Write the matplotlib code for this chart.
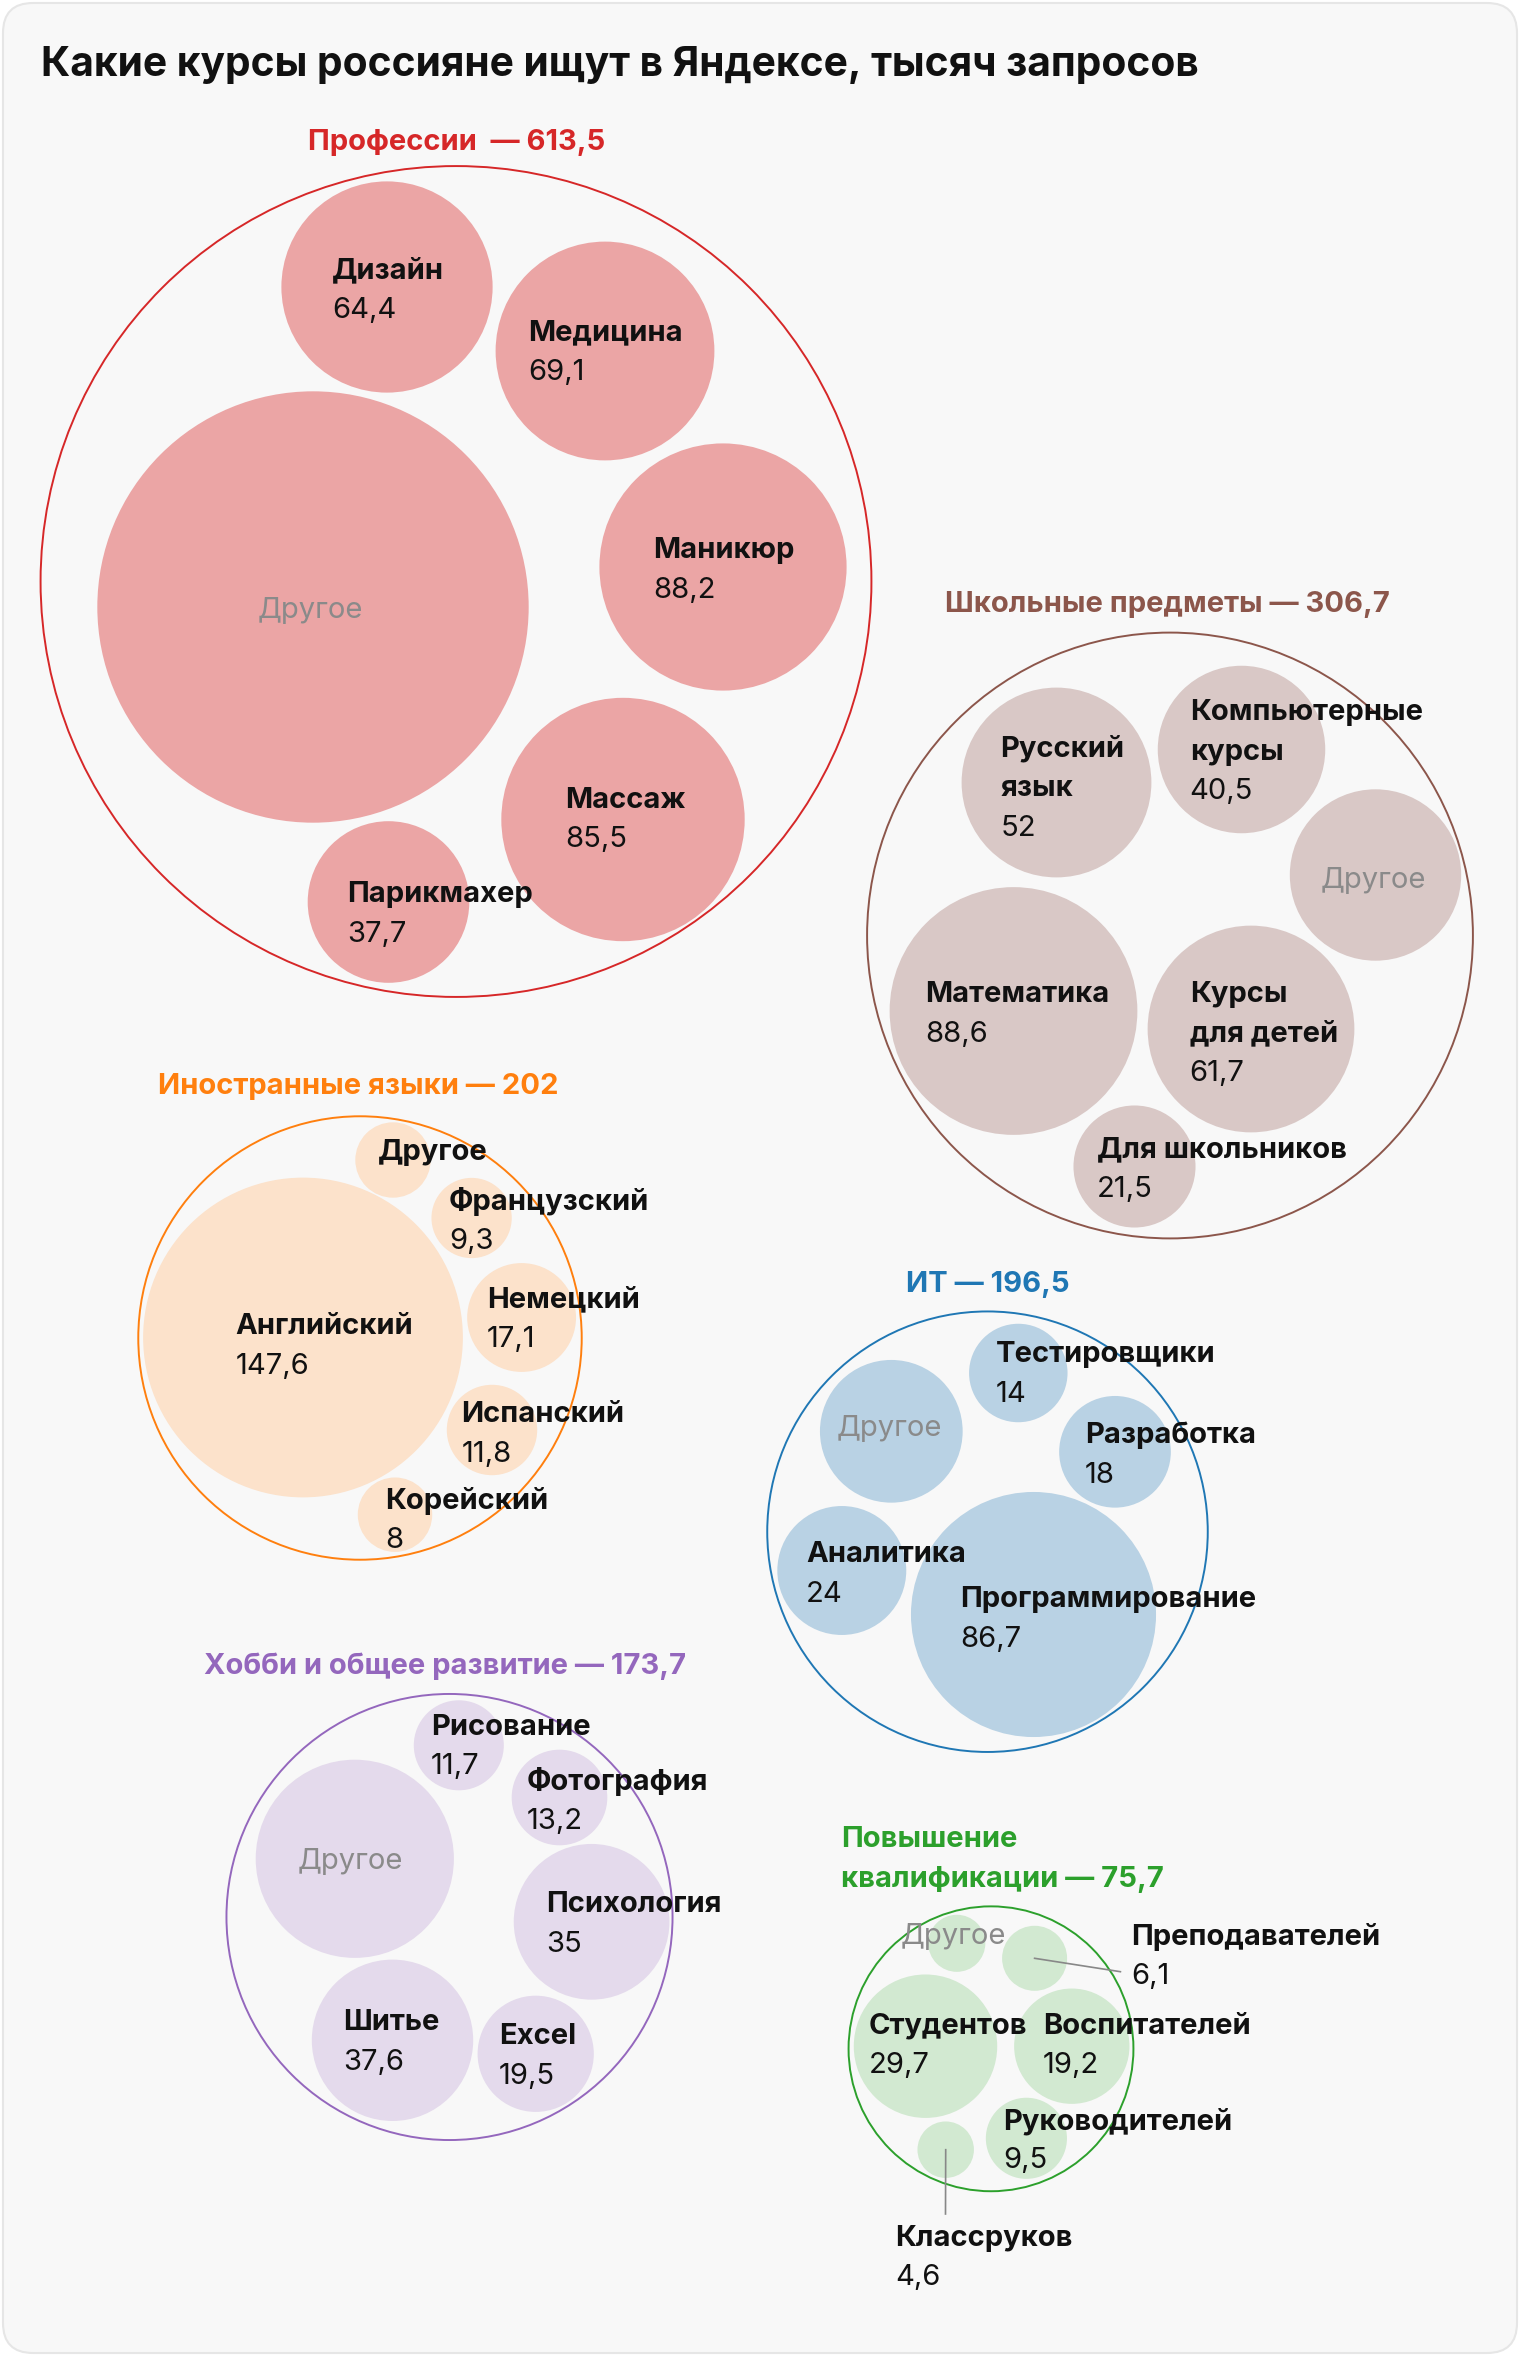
import numpy as np
import matplotlib.pyplot as plt
from matplotlib.patches import Circle, FancyBboxPatch

plt.rcParams['font.family'] = ['Inter', 'DejaVu Sans']

prof_names = ['Дизайн', 'Медицина', 'Маникюр', 'Массаж', 'Парикмахер', 'Другое']
prof_values = [64.4, 69.1, 88.2, 85.5, 37.7, 268.6]
prof_total = 613.5

school_names = ['Русский\nязык', 'Компьютерные\nкурсы', 'Другое', 'Математика',
                'Курсы\nдля детей', 'Для школьников']
school_values = [52, 40.5, 42.4, 88.6, 61.7, 21.5]
school_total = 306.7

lang_names = ['Английский', 'Другое', 'Французский', 'Немецкий', 'Испанский', 'Корейский']
lang_values = [147.6, 8.2, 9.3, 17.1, 11.8, 8]
lang_total = 202

it_names = ['Тестировщики', 'Другое', 'Разработка', 'Аналитика', 'Программирование']
it_values = [14, 29.4, 18, 24, 86.7]
it_total = 196.5

hobby_names = ['Рисование', 'Фотография', 'Другое', 'Психология', 'Шитье', 'Excel']
hobby_values = [11.7, 13.2, 56.7, 35, 37.6, 19.5]
hobby_total = 173.7

qual_names = ['Другое', 'Преподавателей', 'Студентов', 'Воспитателей', 'Руководителей', 'Классруков']
qual_values = [4.7, 6.1, 29.7, 19.2, 9.5, 4.6]
qual_total = 75.7


def fmt(v):
    return f'{v:g}'.replace('.', ',')


# layout of the packing (pixels), bubble sizes come from the values
groups = [
    dict(names=prof_names, values=prof_values, title='Профессии  — ' + fmt(prof_total),
         color='#d62728', fill='#eba5a5', outer=(456, 581.5),
         title_pos=(457, 139), title_ha='center',
         centers=[(387, 287), (605, 351), (723, 567), (623, 819.5), (388.5, 902), (313, 607)],
         labels=[(332, 268), (528.6, 330), (653, 548), (565.5, 797), (347, 892), (310.7, 607.7)]),
    dict(names=school_names, values=school_values, title='Школьные предметы — ' + fmt(school_total),
         color='#8c564b', fill='#d9c8c6', outer=(1170, 935.5),
         title_pos=(1167.5, 602), title_ha='center',
         centers=[(1056.5, 782.5), (1241.5, 749.5), (1375.5, 875), (1013.5, 1011),
                  (1251, 1029), (1134.5, 1166.5)],
         labels=[(1000.4, 746), (1189.7, 710), (1373.5, 877), (924.8, 992),
                 (1189.7, 991), (1097, 1147)]),
    dict(names=lang_names, values=lang_values, title='Иностранные языки — ' + fmt(lang_total),
         color='#ff7f0e', fill='#fce2cb', outer=(360, 1338), dark_other=True,
         title_pos=(358, 1084), title_ha='center',
         centers=[(303, 1337.5), (393, 1160), (471.6, 1218), (521.6, 1317.5),
                  (492, 1430), (395, 1514.7)],
         labels=[(235.4, 1324), (377.5, 1149), (449, 1199), (487, 1296.7),
                 (461.4, 1412), (385.4, 1498)]),
    dict(names=it_names, values=it_values, title='ИТ — ' + fmt(it_total),
         color='#1f77b4', fill='#b9d2e4', outer=(987.5, 1531.7),
         title_pos=(987.5, 1282), title_ha='center',
         centers=[(1018.3, 1373), (891.3, 1431.3), (1115, 1451.8), (841.8, 1570.5), (1033.5, 1614.5)],
         labels=[(995.7, 1351.7), (889.3, 1426), (1085, 1432.7), (806, 1551.7), (960, 1596.7)]),
    dict(names=hobby_names, values=hobby_values, title='Хобби и общее развитие — ' + fmt(hobby_total),
         color='#9467bd', fill='#e4daec', outer=(449.5, 1917),
         title_pos=(444.7, 1663.3), title_ha='center',
         centers=[(458.8, 1745.3), (559.5, 1797.5), (354.8, 1858.8), (591.6, 1921.8),
                  (392.5, 2040.3), (535.7, 2053.8)],
         labels=[(431, 1724.3), (526.8, 1779), (350.7, 1858.3), (546.4, 1901.7),
                 (343.6, 2020), (499, 2034)]),
    dict(names=qual_names, values=qual_values, title='Повышение\nквалификации — ' + fmt(qual_total),
         color='#2ca02c', fill='#d2e9d1', outer=(991, 2048.8),
         title_pos=(841, 1836.7), title_ha='left',
         centers=[(956.8, 1943.3), (1034.6, 1958.3), (925.5, 2046.2), (1071.8, 2046.2),
                  (1026.4, 2138.3), (945.7, 2149.7)],
         labels=[(953.2, 1933.3), (1130.8, 1934.3), (868.6, 2023.3), (1042.7, 2023.3),
                 (1003, 2118.3), (895.4, 2235)],
         leaders={'Преподавателей': (1120.4, 1971.7), 'Классруков': (945.5, 2214)}),
]

K = 13.16      # px per sqrt(thousand searches)
STEP = 39.5    # line step of labels
FS = 21
YOFF = 3       # text sits a bit lower than va=center puts it

fig = plt.figure(figsize=(15.2, 23.56), dpi=100, facecolor='white')
ax = fig.add_axes([0, 0, 1, 1])
ax.set_xlim(0, 1520)
ax.set_ylim(2356, 0)
ax.axis('off')

ax.add_patch(FancyBboxPatch((3, 3), 1514, 2350, boxstyle='round,pad=0,rounding_size=30',
                            fc='#f8f8f8', ec='#e6e6e6', lw=1.5))

ax.text(41, 65, 'Какие курсы россияне ищут в Яндексе, тысяч запросов',
        fontsize=29.3, fontweight='bold', color='#111111', ha='left', va='center')

for g in groups:
    radii = K * np.sqrt(np.array(g['values'], dtype=float))
    centers = np.array(g['centers'], dtype=float)
    for (x, y), r in zip(centers, radii):
        ax.add_patch(Circle((x, y), r, fc=g['fill'], ec='none'))

    oc = np.array(g['outer'])
    outer_r = np.max(np.hypot(*(centers - oc).T) + radii) + 3
    ax.add_patch(Circle(oc, outer_r, fill=False, ec=g['color'], lw=1.4))

    tx, ty = g['title_pos']
    for i, line in enumerate(g['title'].split('\n')):
        ax.text(tx, ty + YOFF + i * STEP, line, fontsize=FS, fontweight='bold',
                color=g['color'], ha=g['title_ha'], va='center')

    for (x, y), name, v, (lx, ly) in zip(centers, g['names'], g['values'], g['labels']):
        ly += YOFF
        if name in g.get('leaders', {}):
            ex, ey = g['leaders'][name]
            ax.plot([x, ex], [y + 13 if ex == x else y, ey], color='#888888', lw=1.2)
        if name == 'Другое':
            if g.get('dark_other'):
                ax.text(lx, ly, name, fontsize=FS, fontweight='bold', color='#111111',
                        ha='left', va='center')
            else:
                ax.text(lx, ly, name, fontsize=FS, color='#8a8a8a', ha='center', va='center')
            continue
        lines = name.split('\n')
        for i, line in enumerate(lines):
            ax.text(lx, ly + i * STEP, line, fontsize=FS, fontweight='bold',
                    color='#111111', ha='left', va='center')
        ax.text(lx, ly + len(lines) * STEP, fmt(v), fontsize=FS, color='#111111',
                ha='left', va='center')

fig.savefig('out.png', dpi=100, facecolor='white')
